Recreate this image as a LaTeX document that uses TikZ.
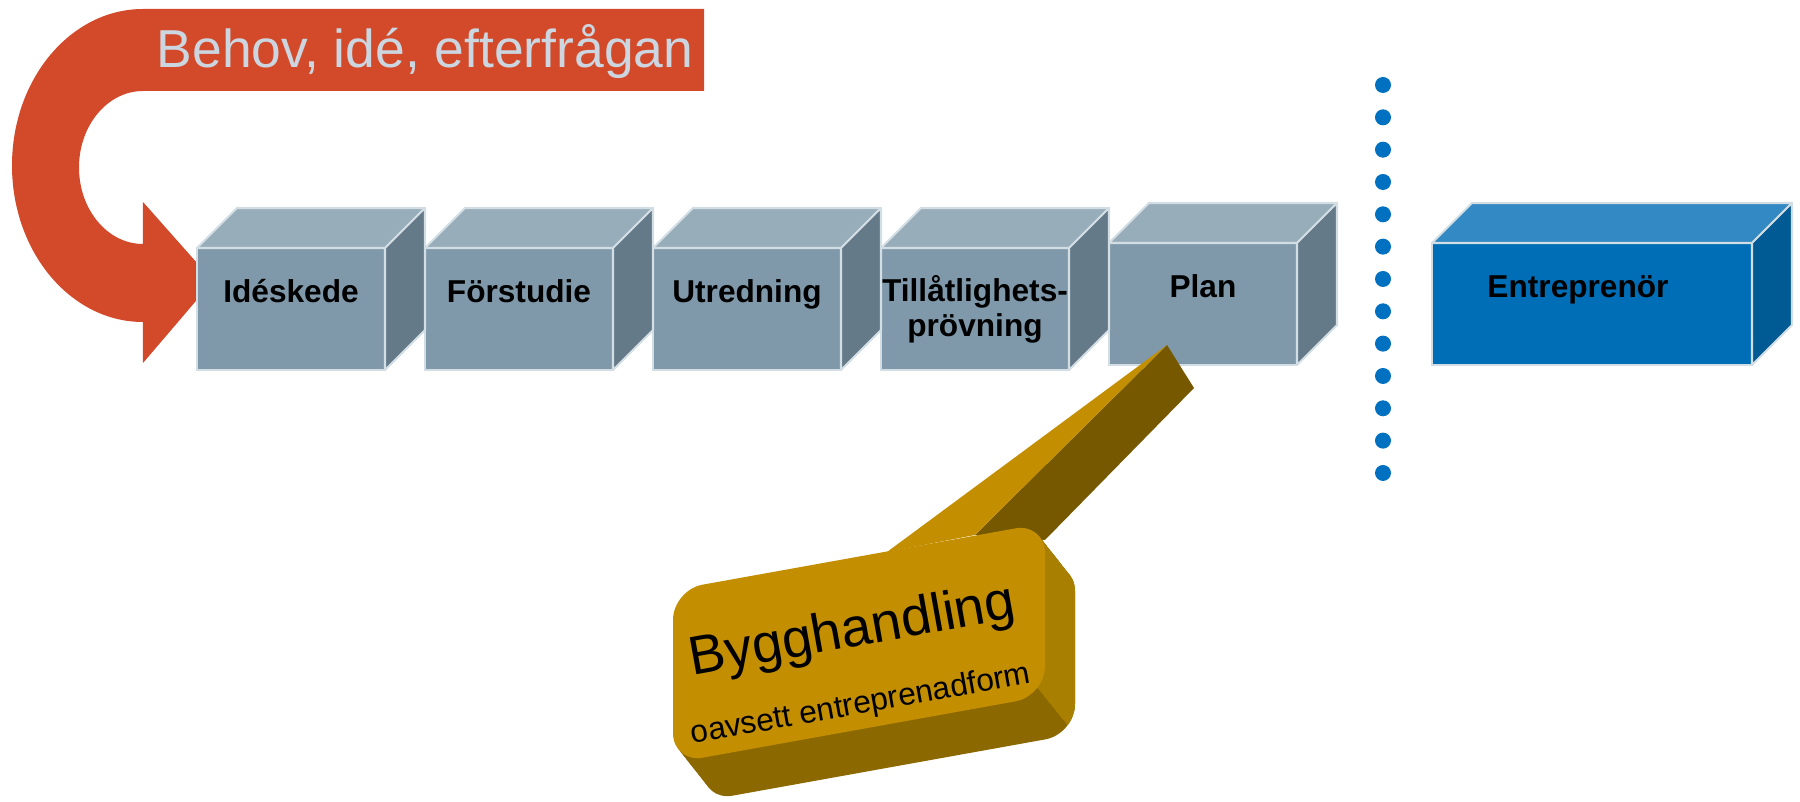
\documentclass[tikz,border=0pt]{standalone}
\usepackage{fontspec}
\setmainfont{Liberation Sans}
\usetikzlibrary{positioning,calc}

\definecolor{stagefront}{HTML}{7F99AA}
\definecolor{stagetop}{HTML}{97ADBA}
\definecolor{stageside}{HTML}{647A89}
\definecolor{stageedge}{HTML}{D3DDE4}
\definecolor{contrfront}{HTML}{006EB6}
\definecolor{contrtop}{HTML}{3389C3}
\definecolor{contrside}{HTML}{005A94}
\definecolor{needred}{HTML}{D24A2A}
\definecolor{needtext}{HTML}{CCD6E0}
\definecolor{dotblue}{HTML}{0070C0}
\definecolor{calloutfront}{HTML}{C38F00}
\definecolor{calloutside}{HTML}{A97F00}
\definecolor{calloutdark}{HTML}{8C6900}
\definecolor{pointerdark}{HTML}{765800}

\newcommand{\boxsides}[3]{%
  \filldraw[faceline,fill=#2] (#1.north west) -- ++(0.4,0.4) -- ($(#1.north east)+(0.4,0.4)$) -- (#1.north east) -- cycle;
  \filldraw[faceline,fill=#3] (#1.north east) -- ++(0.4,0.4) -- ($(#1.south east)+(0.4,0.4)$) -- (#1.south east) -- cycle;
}

\begin{document}
\begin{tikzpicture}[
    stage/.style = {rectangle,fill=stagefront,draw=stageedge,line width=0.6pt,outer sep=0pt,
        inner xsep=0pt,inner ysep=0pt,minimum width=1.88cm,text height=0.55cm,text depth=0.67cm,
        align=center,font=\bfseries\fontsize{9}{10.2}\selectfont},
    twoline/.style = {text height=0.89cm,text depth=0.33cm},
    contractor/.style = {stage,fill=contrfront,minimum width=3.2cm},
    faceline/.style = {draw=stageedge,line width=0.6pt,line join=round},
    ]
    \useasboundingbox (0,0) rectangle (18,8.02);

    \fill[needred] (7.04,7.93) -- (1.43,7.93)
        arc[start angle=90,end angle=270,x radius=1.31cm,y radius=1.565cm]
        -- (1.43,4.39) -- (2.13,5.21) -- (1.43,6.00) -- (1.43,5.58)
        arc[start angle=270,end angle=90,x radius=0.64cm,y radius=0.765cm]
        -- (7.04,7.11) -- cycle;
    \node[anchor=base west,inner sep=0pt,text=needtext,font=\fontsize{15.2}{18}\selectfont] (need) at (1.56,7.34) {Behov, idé, efterfrågan};

    \node[stage] (ide) at (2.91,4.93) {Idéskede};
    \node[stage] (forstudie) [right=0.4cm of ide] {Förstudie};
    \node[stage] (utredning) [right=0.4cm of forstudie] {Utredning};
    \node[stage,twoline] (tillat) [right=0.4cm of utredning] {Tillåtlighets-\\prövning};
    \node[stage] (plan) [right=0.4cm of tillat,yshift=0.05cm] {Plan};
    \node[contractor] (entre) at (15.92,4.98) {Entreprenör\hspace*{0.28cm}};
    \boxsides{ide}{stagetop}{stageside}
    \boxsides{forstudie}{stagetop}{stageside}
    \boxsides{utredning}{stagetop}{stageside}
    \boxsides{tillat}{stagetop}{stageside}
    \boxsides{plan}{stagetop}{stageside}
    \boxsides{entre}{contrtop}{contrside}

    \foreach \k in {0,...,12}
        \fill[dotblue] (13.83,7.17-0.3233*\k) circle (0.08);

    \fill[pointerdark] (9.75,2.67) -- (11.67,4.57) -- (11.94,4.14) -- (10.45,2.62) -- cycle;
    \fill[calloutfront] (8.87,2.50) -- (11.67,4.57) -- (9.75,2.67) -- cycle;
    \begin{scope}[shift={(6.73,0.39)},yslant=0.18]
        \foreach \d in {0.1,0.2,...,1.0}
            \fill[calloutdark,rounded corners=0.3cm] (0.30*\d,-0.434*\d) rectangle ++(3.72,1.73);
        \begin{scope}
            \clip (3.5,2.5) -- (4.6,2.5) -- (4.6,-1.27) -- (3.66,0.08) -- (3.5,0.3) -- cycle;
            \foreach \d in {0.1,0.2,...,1.0}
                \fill[calloutside,rounded corners=0.3cm] (0.30*\d,-0.434*\d) rectangle ++(3.72,1.73);
        \end{scope}
        \fill[calloutfront,rounded corners=0.3cm] (0,0) rectangle (3.72,1.73);
    \end{scope}
    \node[rotate=10.2,anchor=base west,inner sep=0pt,font=\fontsize{15.5}{18}\selectfont] (bygg) at (6.92,1.26) {Bygghandling};
    \node[rotate=10.2,anchor=base west,inner sep=0pt,font=\fontsize{9}{11}\selectfont] (oavsett) at (6.92,0.58) {oavsett entreprenadform};
\end{tikzpicture}
\end{document}
